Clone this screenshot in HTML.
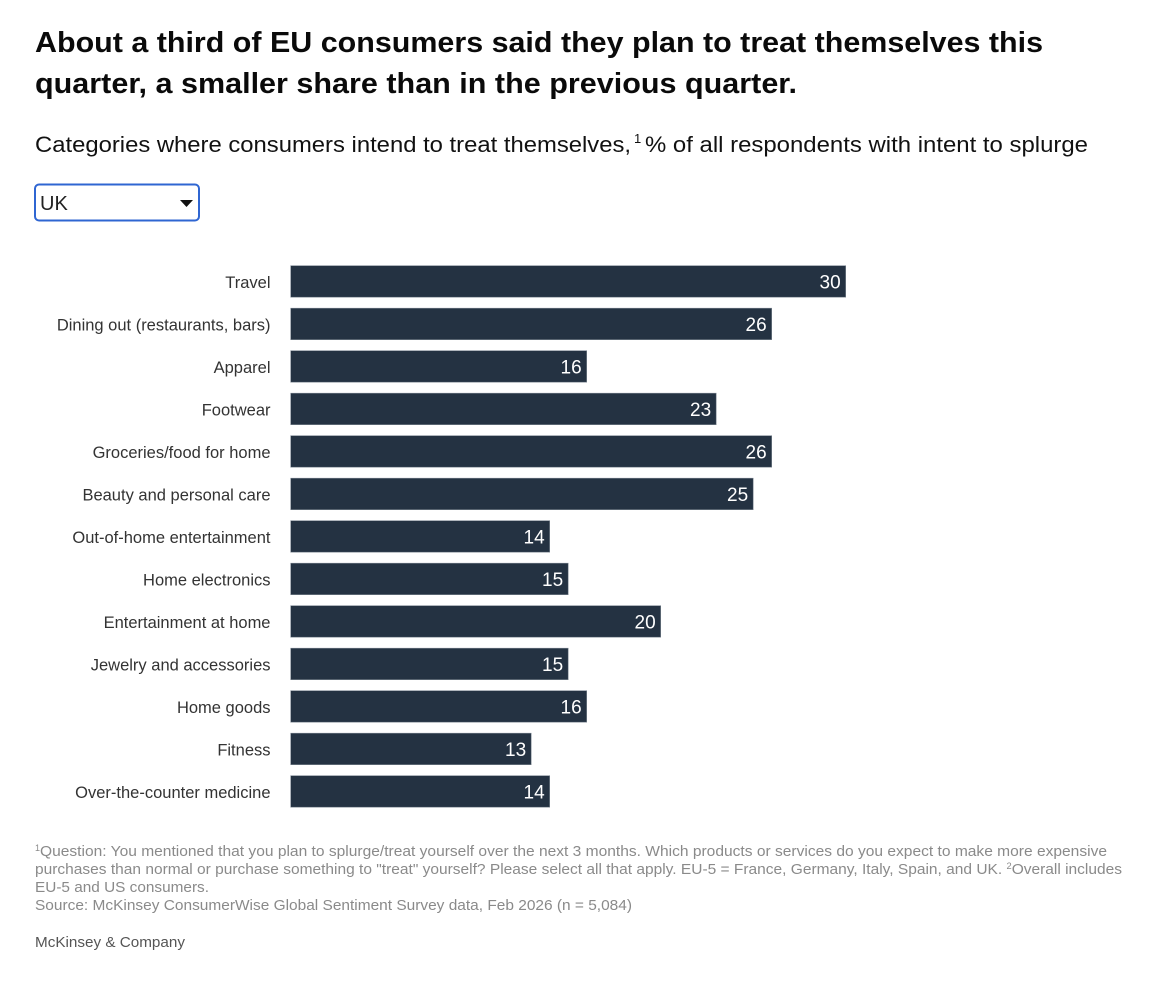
<!DOCTYPE html>
<html>
<head>
<meta charset="utf-8">
<style>
  html, body { margin: 0; padding: 0; background: #ffffff; }
  body { width: 1160px; height: 995px; overflow: hidden; }
  svg { display: block; font-family: "Liberation Sans", Arial, sans-serif; }
</style>
</head>
<body>
<svg width="1160" height="995" viewBox="0 0 1160 995" xmlns="http://www.w3.org/2000/svg">
  <rect width="1160" height="995" fill="#ffffff"/>

  <!-- Title -->
  <text x="35" y="52" font-size="28.5" font-weight="bold" fill="#0a0a0a" textLength="1008" lengthAdjust="spacingAndGlyphs">About a third of EU consumers said they plan to treat themselves this</text>
  <text x="35" y="93" font-size="28.5" font-weight="bold" fill="#0a0a0a" textLength="762" lengthAdjust="spacingAndGlyphs">quarter, a smaller share than in the previous quarter.</text>

  <!-- Subtitle -->
  <text x="35" y="152" font-size="22" fill="#111" textLength="596" lengthAdjust="spacingAndGlyphs">Categories where consumers intend to treat themselves,</text>
  <text x="634" y="143" font-size="13" fill="#111">1</text>
  <text x="645" y="152" font-size="22" fill="#111" textLength="443" lengthAdjust="spacingAndGlyphs">% of all respondents with intent to splurge</text>

  <!-- Dropdown -->
  <rect x="35" y="184.5" width="164" height="36" rx="4" ry="4" fill="#ffffff" stroke="#2f66d2" stroke-width="2"/>
  <text x="40" y="210" font-size="20" fill="#222">UK</text>
  <polygon points="180,200 193,200 186.5,207" fill="#111"/>

  <!-- Bars -->
  <g font-size="16.5" fill="#333" text-anchor="end">
    <text x="270.5" y="288">Travel</text>
    <text x="270.5" y="330.5">Dining out (restaurants, bars)</text>
    <text x="270.5" y="373">Apparel</text>
    <text x="270.5" y="415.5">Footwear</text>
    <text x="270.5" y="458">Groceries/food for home</text>
    <text x="270.5" y="500.5">Beauty and personal care</text>
    <text x="270.5" y="543">Out-of-home entertainment</text>
    <text x="270.5" y="585.5">Home electronics</text>
    <text x="270.5" y="628">Entertainment at home</text>
    <text x="270.5" y="670.5">Jewelry and accessories</text>
    <text x="270.5" y="713">Home goods</text>
    <text x="270.5" y="755.5">Fitness</text>
    <text x="270.5" y="798">Over-the-counter medicine</text>
  </g>

  <g fill="#243242" stroke="#7d8791" stroke-width="0.6">
    <rect x="290.7" y="265.7" width="555" height="31.5"/>
    <rect x="290.7" y="308.2" width="481" height="31.5"/>
    <rect x="290.7" y="350.7" width="296" height="31.5"/>
    <rect x="290.7" y="393.2" width="425.5" height="31.5"/>
    <rect x="290.7" y="435.7" width="481" height="31.5"/>
    <rect x="290.7" y="478.2" width="462.5" height="31.5"/>
    <rect x="290.7" y="520.7" width="259" height="31.5"/>
    <rect x="290.7" y="563.2" width="277.5" height="31.5"/>
    <rect x="290.7" y="605.7" width="370" height="31.5"/>
    <rect x="290.7" y="648.2" width="277.5" height="31.5"/>
    <rect x="290.7" y="690.7" width="296" height="31.5"/>
    <rect x="290.7" y="733.2" width="240.5" height="31.5"/>
    <rect x="290.7" y="775.7" width="259" height="31.5"/>
  </g>

  <g font-size="19" fill="#ffffff" text-anchor="end">
    <text x="840.7" y="288.6">30</text>
    <text x="766.7" y="331.1">26</text>
    <text x="581.7" y="373.6">16</text>
    <text x="711.2" y="416.1">23</text>
    <text x="766.7" y="458.6">26</text>
    <text x="748.2" y="501.1">25</text>
    <text x="544.7" y="543.6">14</text>
    <text x="563.2" y="586.1">15</text>
    <text x="655.7" y="628.6">20</text>
    <text x="563.2" y="671.1">15</text>
    <text x="581.7" y="713.6">16</text>
    <text x="526.2" y="756.1">13</text>
    <text x="544.7" y="798.6">14</text>
  </g>

  <!-- Footnotes -->
  <g font-size="15" fill="#8a8a8a">
    <text x="35" y="851" font-size="9">1</text>
    <text x="40" y="856" textLength="1067" lengthAdjust="spacingAndGlyphs">Question: You mentioned that you plan to splurge/treat yourself over the next 3 months. Which products or services do you expect to make more expensive</text>
    <text x="35" y="874" textLength="1087" lengthAdjust="spacingAndGlyphs">purchases than normal or purchase something to "treat" yourself? Please select all that apply. EU-5 = France, Germany, Italy, Spain, and UK. <tspan font-size="9" dy="-5">2</tspan><tspan dy="5">Overall includes</tspan></text>
    <text x="35" y="892" textLength="174" lengthAdjust="spacingAndGlyphs">EU-5 and US consumers.</text>
    <text x="35" y="910" textLength="597" lengthAdjust="spacingAndGlyphs">Source: McKinsey ConsumerWise Global Sentiment Survey data, Feb 2026 (n = 5,084)</text>
  </g>

  <text x="35" y="947" font-size="15" fill="#555" textLength="150" lengthAdjust="spacingAndGlyphs">McKinsey &amp; Company</text>
</svg>
</body>
</html>
